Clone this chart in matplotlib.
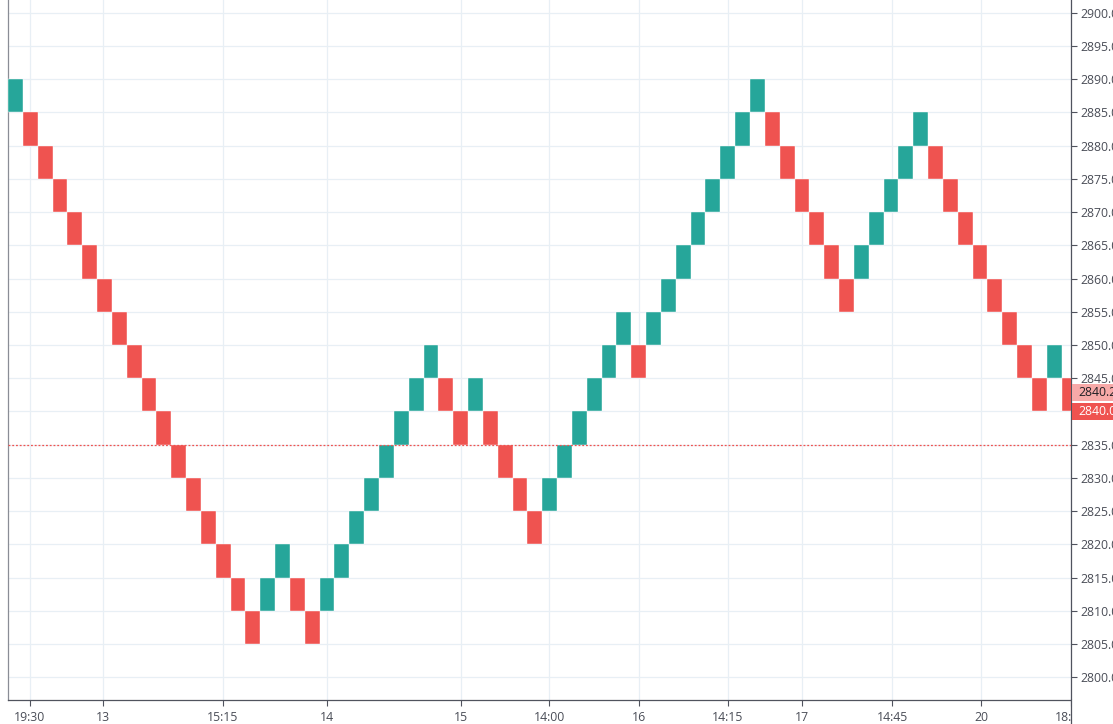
import matplotlib
matplotlib.use("Agg")
from matplotlib import pyplot as plt
from matplotlib.patches import Rectangle
from matplotlib.lines import Line2D
from matplotlib.transforms import blended_transform_factory
import numpy as np

# renko bricks, size 5: bottom of each brick and whether it is an up brick
brick_size = 5
brick_low = [2885, 2880, 2875, 2870, 2865, 2860, 2855, 2850, 2845, 2840,
             2835, 2830, 2825, 2820, 2815, 2810, 2805, 2810, 2815, 2810,
             2805, 2810, 2815, 2820, 2825, 2830, 2835, 2840, 2845, 2840,
             2835, 2840, 2835, 2830, 2825, 2820, 2825, 2830, 2835, 2840,
             2845, 2850, 2845, 2850, 2855, 2860, 2865, 2870, 2875, 2880,
             2885, 2880, 2875, 2870, 2865, 2860, 2855, 2860, 2865, 2870,
             2875, 2880, 2875, 2870, 2865, 2860, 2855, 2850, 2845, 2840,
             2845, 2840]
brick_up = [1, 0, 0, 0, 0, 0, 0, 0, 0, 0,
            0, 0, 0, 0, 0, 0, 0, 1, 1, 0,
            0, 1, 1, 1, 1, 1, 1, 1, 1, 0,
            0, 1, 0, 0, 0, 0, 1, 1, 1, 1,
            1, 1, 0, 1, 1, 1, 1, 1, 1, 1,
            1, 0, 0, 0, 0, 0, 0, 1, 1, 1,
            1, 1, 0, 0, 0, 0, 0, 0, 0, 0,
            1, 0]

time_labels = ["19:30", "13", "15:15", "14", "15", "14:00", "16",
               "14:15", "17", "14:45", "20", "18:00"]
time_at = [1.48, 6.40, 14.49, 21.50, 30.53, 36.46, 42.52,
           48.52, 53.50, 59.57, 65.57, 71.6]

last_price = 2840.25
last_close = 2840.00
ref_line = 2835

green = "#26a69a"
red = "#ef5350"
grid_c = "#e8eff5"
text_c = "#4a4d57"
axis_c = "#50535e"

plt.rcParams['font.family'] = ['Open Sans', 'DejaVu Sans']

fig = plt.figure(figsize=(11.13, 7.24), dpi=100)
ax = fig.add_axes([8 / 1113, 24 / 724, 1063 / 1113, 700 / 724])

for i, (low, up) in enumerate(zip(brick_low, brick_up)):
    c = green if up else red
    ax.add_patch(Rectangle((i, low), 1, brick_size, facecolor=c,
                           edgecolor="white", linewidth=0.3, zorder=3))

ax.axhline(ref_line, color=red, linestyle=(0, (1.5, 1.5)), linewidth=0.9, zorder=4)

ax.set_xlim(0, 71.63)
ax.set_ylim(2796.6, 2901.9)

levels = np.arange(2800, 2901, 5)
ax.yaxis.tick_right()
ax.set_yticks(levels)
# the 2840 level is shown by the last-close tag instead
ax.set_yticklabels(["" if v == last_close else "%.2f" % v for v in levels])
ax.set_xticks(time_at)
ax.set_xticklabels(time_labels)
ax.tick_params(axis="y", length=4, width=0.8, color=axis_c, pad=3,
               labelsize=8.8, labelcolor=text_c)
ax.tick_params(axis="x", length=4, width=0.8, color=axis_c, pad=4,
               labelsize=8.8, labelcolor=text_c)

ax.grid(True, color=grid_c, linewidth=0.9, zorder=0)
ax.set_axisbelow(True)

ax.spines["top"].set_visible(False)
for s in ["left", "right", "bottom"]:
    ax.spines[s].set_color(axis_c)
    ax.spines[s].set_linewidth(0.9)
ax.spines["left"].set_color("#8a8d96")

# price scale corner: hide what spills past the price axis, extend its line
fig.add_artist(Rectangle((1072 / 1113, 0), 41 / 1113, 24 / 724,
                         transform=fig.transFigure, facecolor="white",
                         edgecolor="none", zorder=5))
fig.add_artist(Line2D([1071 / 1113, 1071 / 1113], [0, 24 / 724],
                      transform=fig.transFigure, color=axis_c, linewidth=0.9,
                      zorder=6))

# last price labels on the price scale
tr = blended_transform_factory(fig.transFigure, ax.transData)
fig.add_artist(Rectangle((1071.5 / 1113, 2842.86 - 1.35), 42 / 1113, 2.7,
                         transform=tr, facecolor="#f7a9a8", edgecolor="none",
                         zorder=5))
fig.add_artist(Rectangle((1071.5 / 1113, last_close - 1.3), 42 / 1113, 2.6,
                         transform=tr, facecolor=red, edgecolor="none",
                         zorder=5))
fig.text(1078 / 1113, 2842.86, "%.2f" % last_price, transform=tr,
         va="center", ha="left", fontsize=8.8, color="#1e1f24", zorder=6)
fig.text(1078 / 1113, last_close, "%.2f" % last_close, transform=tr,
         va="center", ha="left", fontsize=8.8, color="white", zorder=6)

fig.savefig("out.png", dpi=100)
